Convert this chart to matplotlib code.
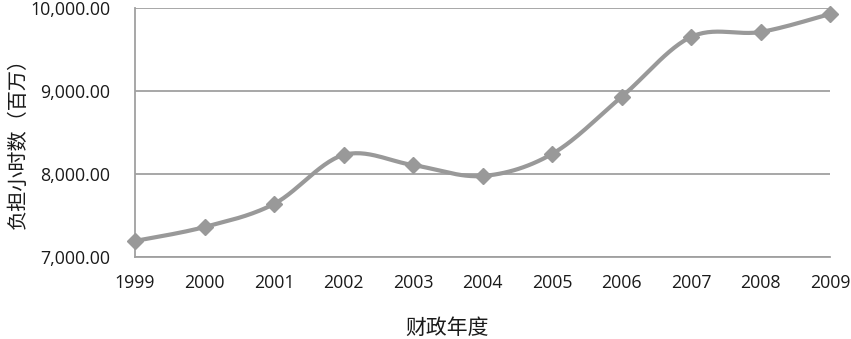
import matplotlib
matplotlib.use("Agg")
import matplotlib.pyplot as plt
import numpy as np
from matplotlib.ticker import FuncFormatter

plt.rcParams['font.family'] = ['Open Sans', 'Noto Sans CJK SC', 'DejaVu Sans']

years = [1999, 2000, 2001, 2002, 2003, 2004, 2005, 2006, 2007, 2008, 2009]
hours = [7193, 7361, 7639, 8229, 8108, 7976, 8241, 8928, 9651, 9711, 9928]
yticks = [7000, 8000, 9000, 10000]
xlabel = "财政年度"
ylabel = "负担小时数（百万）"

def smooth(xs, ys, n=30):
    xs = np.asarray(xs, float); ys = np.asarray(ys, float)
    px = np.concatenate([[xs[0]], xs, [xs[-1]]])
    py = np.concatenate([[ys[0]], ys, [ys[-1]]])
    ox, oy = [], []
    t = np.linspace(0, 1, n)
    for i in range(1, len(px) - 2):
        p0 = np.array([px[i-1], py[i-1]]); p1 = np.array([px[i], py[i]])
        p2 = np.array([px[i+1], py[i+1]]); p3 = np.array([px[i+2], py[i+2]])
        c1 = p1 + (p2 - p0) / 6.0
        c2 = p2 - (p3 - p1) / 6.0
        b = ((1-t)**3)[:, None]*p1 + (3*(1-t)**2*t)[:, None]*c1 + (3*(1-t)*t**2)[:, None]*c2 + (t**3)[:, None]*p2
        ox.extend(b[:, 0]); oy.extend(b[:, 1])
    return np.array(ox), np.array(oy)

fig = plt.figure(figsize=(8.51, 3.39), dpi=100)
ax = fig.add_axes([135/851, 1-257/339, (830-135)/851, (257-8)/339])

sx, sy = smooth(years, hours)
ax.plot(sx, sy, color='#999999', lw=3.0, solid_capstyle='round', zorder=3, clip_on=False)
ax.plot(years, hours, linestyle='none', marker='D', markersize=8.5, color='#999999', zorder=4, clip_on=False)

ax.set_xlim(years[0], years[-1])
ax.set_ylim(7000, 10000)
ax.set_yticks(yticks)
ax.set_xticks(years)
ax.yaxis.set_major_formatter(FuncFormatter(lambda v, p: f"{v:,.2f}"))
ax.grid(axis='y', color='#a0a0a0', lw=1.3)
ax.set_axisbelow(True)
for s in ['top', 'right']:
    ax.spines[s].set_visible(False)
for s in ['left', 'bottom']:
    ax.spines[s].set_color('#a0a0a0')
    ax.spines[s].set_linewidth(1.3)
ax.tick_params(axis='both', length=0, labelsize=12.8, colors='#1a1a1a')
ax.tick_params(axis='x', pad=12)
ax.tick_params(axis='y', pad=18)

fig.text(447/851, 1-328/339, xlabel, ha='center', va='center', fontsize=15,
         family=['Noto Sans CJK SC', 'DejaVu Sans'], color='#1a1a1a')
fig.text(18/851, 1-138/339, ylabel, ha='center', va='center', rotation=90, fontsize=14.5,
         family=['Noto Sans CJK SC', 'DejaVu Sans'], color='#1a1a1a')

fig.savefig('out.png', dpi=100)
